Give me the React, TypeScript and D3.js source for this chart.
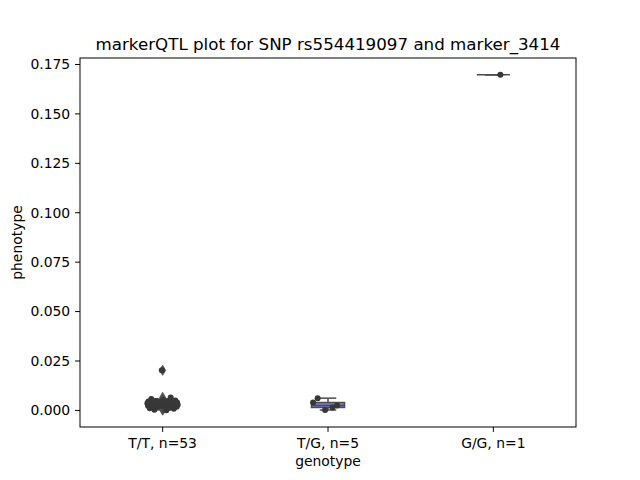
import React from "react";
import * as d3 from "d3";

const title = "markerQTL plot for SNP rs554419097 and marker_3414";
const xLabel = "genotype";
const yLabel = "phenotype";
const categories = ["T/T, n=53", "T/G, n=5", "G/G, n=1"];

const ttValues = [
  0.0001, 0.0003, 0.0008, 0.0203, 0.0011, 0.0014, 0.0016, 0.0018, 0.0019, 0.0021, 0.0022,
  0.0023, 0.0024, 0.0025, 0.0025, 0.0026, 0.0027, 0.0027, 0.0028, 0.0029, 0.0029,
  0.003, 0.003, 0.0031, 0.0031, 0.0032, 0.0032, 0.0033, 0.0033, 0.0034, 0.0034,
  0.0035, 0.0035, 0.0036, 0.0036, 0.0037, 0.0037, 0.0038, 0.0038, 0.0039, 0.004,
  0.004, 0.0041, 0.0042, 0.0043, 0.0044, 0.0045, 0.0046, 0.0048, 0.005, 0.0053,
  0.0058, 0.0066,
];
const tgValues = [0.0062, 0.0025, 0.0002, 0.004, 0.0015];
const ggValues = [0.1698];
const groups = [ttValues, tgValues, ggValues];

const yTicks = [0, 0.025, 0.05, 0.075, 0.1, 0.125, 0.15, 0.175];

const W = 640, H = 480;
const M = { left: 80, right: 64, top: 58, bottom: 53 };
const FONT = "DejaVu Sans, sans-serif";
const LINE = "#4d4d4d";
const BOXFILL = "#7b7bd8";
const DOT = "#383838";

function jitter(i: number, g: number) {
  const v = (i + 1) * 0.618034 + g * 0.553;
  return (v - Math.floor(v)) * 2 - 1;
}

function stats(vals: number[]) {
  const s = [...vals].sort((a, b) => a - b);
  const q1 = d3.quantile(s, 0.25)!;
  const med = d3.quantile(s, 0.5)!;
  const q3 = d3.quantile(s, 0.75)!;
  const iqr = q3 - q1;
  const lo = q1 - 1.5 * iqr, hi = q3 + 1.5 * iqr;
  const inside = s.filter((v) => v >= lo && v <= hi);
  return {
    q1, med, q3,
    wlo: d3.min(inside)!, whi: d3.max(inside)!,
    fliers: s.filter((v) => v < lo || v > hi),
  };
}

export default function App() {
  const x = d3.scaleBand<string>().domain(categories).range([M.left, W - M.right]).padding(0);
  const all = groups.flat();
  const mn = d3.min(all)!, mx = d3.max(all)!;
  const pad = (mx - mn) * 0.05;
  const y = d3.scaleLinear().domain([mn - pad, mx + pad]).range([H - M.bottom, M.top]);
  const bw = x.bandwidth();
  const boxW = bw * 0.2;
  const fmt = d3.format(".3f");

  return (
    <svg width={W} height={H} style={{ position: "absolute", left: 0, top: 0, background: "#fff" }} fontFamily={FONT}>
      <rect x={0} y={0} width={W} height={H} fill="#fff" />
      {groups.map((vals, gi) => {
        const c = x(categories[gi])! + bw / 2;
        const st = stats(vals);
        return (
          <g key={"box" + gi}>
            <line x1={c} x2={c} y1={y(st.q3)} y2={y(st.whi)} stroke={LINE} strokeWidth={1.5} />
            <line x1={c} x2={c} y1={y(st.q1)} y2={y(st.wlo)} stroke={LINE} strokeWidth={1.5} />
            <line x1={c - boxW / 4} x2={c + boxW / 4} y1={y(st.whi)} y2={y(st.whi)} stroke={LINE} strokeWidth={1.5} />
            <line x1={c - boxW / 4} x2={c + boxW / 4} y1={y(st.wlo)} y2={y(st.wlo)} stroke={LINE} strokeWidth={1.5} />
            <rect x={c - boxW / 2} y={y(st.q3)} width={boxW} height={Math.max(0, y(st.q1) - y(st.q3))}
              fill={BOXFILL} stroke={LINE} strokeWidth={1.5} />
            <line x1={c - boxW / 2} x2={c + boxW / 2} y1={y(st.med)} y2={y(st.med)} stroke={LINE} strokeWidth={1.5} />
            {st.fliers.map((f, k) => (
              <path key={k} d={`M${c},${y(f) - 5} L${c + 3},${y(f)} L${c},${y(f) + 5} L${c - 3},${y(f)} Z`}
                fill={LINE} stroke={LINE} strokeWidth={0.8} />
            ))}
          </g>
        );
      })}
      {groups.map((vals, gi) => {
        const c = x(categories[gi])! + bw / 2;
        return (
          <g key={"pts" + gi}>
            {vals.map((v, i) => (
              <circle key={i} cx={c + jitter(i, gi) * bw * 0.095} cy={y(v)} r={3} fill={DOT} />
            ))}
          </g>
        );
      })}
      <rect x={M.left} y={M.top} width={W - M.left - M.right} height={H - M.top - M.bottom}
        fill="none" stroke="#000" strokeWidth={1} />
      {yTicks.map((t) => (
        <g key={t}>
          <line x1={M.left - 4.9} x2={M.left} y1={y(t)} y2={y(t)} stroke="#000" strokeWidth={1} />
          <text x={M.left - 9.8} y={y(t)} dy="0.35em" textAnchor="end" fontSize={13.9} fill="#000">{fmt(t)}</text>
        </g>
      ))}
      {categories.map((cat) => {
        const c = x(cat)! + bw / 2;
        return (
          <g key={cat}>
            <line x1={c} x2={c} y1={H - M.bottom} y2={H - M.bottom + 4.9} stroke="#000" strokeWidth={1} />
            <text x={c} y={448} textAnchor="middle" fontSize={13.9} fill="#000">{cat}</text>
          </g>
        );
      })}
      <text x={(M.left + W - M.right) / 2} y={466} textAnchor="middle" fontSize={13.9} fill="#000">{xLabel}</text>
      <text transform={`translate(22,${(M.top + H - M.bottom) / 2}) rotate(-90)`} textAnchor="middle" fontSize={13.9} fill="#000">{yLabel}</text>
      <text x={(M.left + W - M.right) / 2} y={50} textAnchor="middle" fontSize={16.7} fill="#000">{title}</text>
    </svg>
  );
}
